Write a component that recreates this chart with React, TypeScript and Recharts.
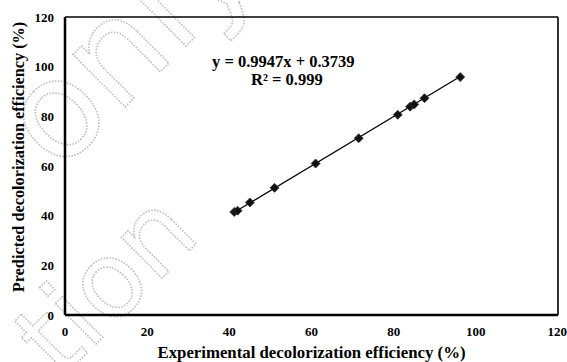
import { ScatterChart, Scatter, XAxis, YAxis, ReferenceLine } from 'recharts';

const experimental = [41.2, 42.0, 45.0, 51.0, 61.0, 71.5, 81.0, 84.0, 85.0, 87.5, 96.2];
const predicted = [41.5, 42.0, 45.3, 51.2, 61.0, 71.2, 80.6, 83.9, 84.8, 87.3, 95.8];
const axisTicks = [0, 20, 40, 60, 80, 100, 120];

const slope = 0.9947;
const intercept = 0.3739;

const points = experimental.map((x, i) => ({ x, y: predicted[i] }));
const xMin = Math.min(...experimental);
const xMax = Math.max(...experimental);
const trend = [
  { x: xMin, y: slope * xMin + intercept },
  { x: xMax, y: slope * xMax + intercept },
];

const font = '"Liberation Serif", "Times New Roman", serif';
const tickStyle = { fill: '#000', fontSize: 13, fontWeight: 700, fontFamily: font };

// diamond marker, a rotated square
const Diamond = (props: any) => {
  const { cx, cy } = props;
  const r = 4.5;
  return <polygon points={`${cx},${cy - r} ${cx + r},${cy} ${cx},${cy + r} ${cx - r},${cy}`} fill="#111" stroke="#333" strokeWidth={0.8} />;
};

const wmStyle = {
  fontFamily: '"DejaVu Sans", sans-serif',
  fill: 'none',
  stroke: '#bdbdbd',
  strokeWidth: 1.6,
  strokeDasharray: '1.5 1.5',
};

export default function App() {
  return (
    <div style={{ position: 'absolute', left: 0, top: 0, width: 567, height: 362, background: '#fff', overflow: 'hidden' }}>
      <svg width={567} height={362} style={{ position: 'absolute', left: 0, top: 0 }}>
        <text x={58} y={174} fontSize={135} transform="rotate(-45 58 174)" style={wmStyle}>only</text>
        <text x={60} y={380} fontSize={105} transform="rotate(-45 60 380)" style={wmStyle}>tion</text>
      </svg>
      <ScatterChart width={567} height={362} margin={{ top: 17, right: 9, left: 0, bottom: 0 }} style={{ position: 'absolute', left: 0, top: 0 }}>
        <XAxis
          type="number"
          dataKey="x"
          domain={[0, 120]}
          ticks={axisTicks}
          height={47}
          tickLine={false}
          tickMargin={6}
          axisLine={{ stroke: '#000', strokeWidth: 2.5 }}
          tick={tickStyle}
          label={{
            value: 'Experimental decolorization efficiency (%)',
            position: 'insideBottom',
            offset: 4,
            style: { fill: '#000', fontSize: 16.8, fontWeight: 700, fontFamily: font },
          }}
        />
        <YAxis
          type="number"
          dataKey="y"
          domain={[0, 120]}
          ticks={axisTicks}
          width={65}
          tickLine={false}
          tickMargin={5}
          axisLine={{ stroke: '#000', strokeWidth: 2.5 }}
          tick={tickStyle}
        />
        <ReferenceLine y={120} stroke="#000" strokeWidth={1.6} />
        <ReferenceLine x={120} stroke="#000" strokeWidth={1.6} />
        <ReferenceLine segment={trend} stroke="#000" strokeWidth={1.3} />
        <Scatter data={points} shape={<Diamond />} isAnimationActive={false} />
      </ScatterChart>
      <div
        style={{
          position: 'absolute',
          left: 212,
          top: 53,
          fontFamily: font,
          fontWeight: 700,
          fontSize: 16.5,
          lineHeight: '18px',
          color: '#000',
        }}
      >
        <div>y = 0.9947x + 0.3739</div>
        <div style={{ paddingLeft: 39 }}>R² = 0.999</div>
      </div>
      <div
        style={{
          position: 'absolute',
          left: 19,
          top: 157,
          transform: 'translate(-50%, -50%) rotate(-90deg)',
          whiteSpace: 'nowrap',
          fontFamily: font,
          fontWeight: 700,
          fontSize: 16.3,
          color: '#000',
        }}
      >
        Predicted decolorization efficiency (%)
      </div>
    </div>
  );
}
